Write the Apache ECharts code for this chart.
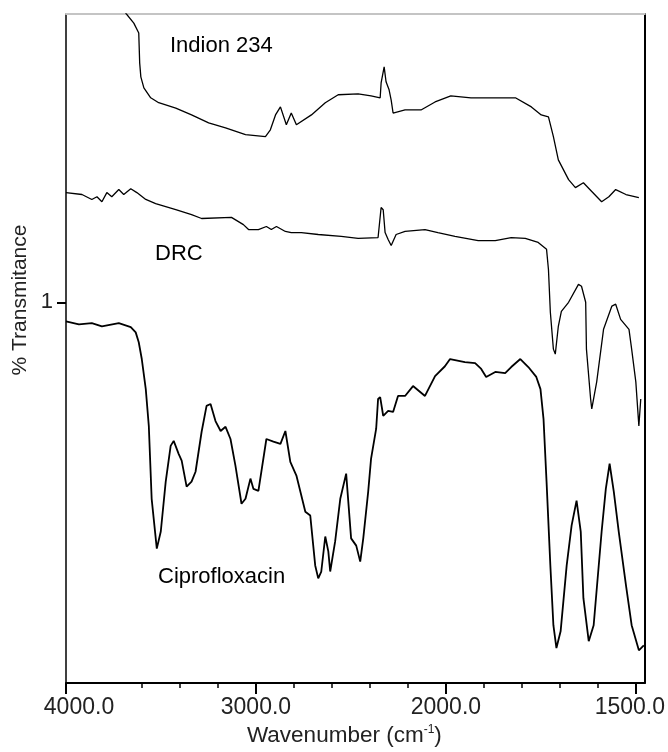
<!DOCTYPE html>
<html>
<head>
<meta charset="utf-8">
<title>FTIR spectra</title>
<script src="https://cdn.jsdelivr.net/npm/echarts@6/dist/echarts.min.js"></script>
<style>
  html, body { margin: 0; padding: 0; background: #fff; }
  #chart { width: 668px; height: 752px; }
</style>
</head>
<body>
<div id="chart"></div>
<script>
// spectra: wavenumber (cm-1) and relative transmittance (1 = axis mark)
var indionWn = [3701, 3685, 3643, 3617, 3612, 3606, 3590, 3554, 3512, 3422, 3339, 3249, 3160, 3055, 2950, 2924, 2897, 2871, 2840, 2814, 2787, 2708, 2635, 2567, 2462, 2394, 2346, 2341, 2325, 2315, 2299, 2288, 2278, 2215, 2131, 2057, 1987, 1934, 1817, 1775, 1749, 1730, 1717, 1704, 1677, 1659, 1638, 1616, 1590, 1571, 1553, 1526, 1492];
var indionT = [1.780, 1.759, 1.733, 1.707, 1.628, 1.592, 1.563, 1.537, 1.524, 1.510, 1.492, 1.471, 1.458, 1.440, 1.435, 1.453, 1.492, 1.513, 1.466, 1.497, 1.466, 1.492, 1.524, 1.545, 1.547, 1.542, 1.537, 1.576, 1.618, 1.579, 1.558, 1.531, 1.497, 1.505, 1.505, 1.526, 1.542, 1.537, 1.537, 1.513, 1.492, 1.487, 1.435, 1.374, 1.322, 1.301, 1.314, 1.291, 1.264, 1.277, 1.296, 1.283, 1.275];

var drcWn = [4000, 3916, 3864, 3837, 3811, 3785, 3759, 3722, 3696, 3659, 3627, 3580, 3528, 3422, 3339, 3286, 3129, 3066, 3039, 2987, 2945, 2919, 2892, 2845, 2814, 2761, 2672, 2551, 2462, 2357, 2341, 2330, 2320, 2304, 2288, 2262, 2215, 2110, 2042, 1976, 1915, 1870, 1828, 1791, 1757, 1735, 1730, 1725, 1717, 1712, 1704, 1696, 1677, 1651, 1643, 1632, 1630, 1619, 1616, 1603, 1585, 1563, 1553, 1540, 1518, 1511, 1500, 1492, 1487];
var drcT = [1.288, 1.283, 1.270, 1.277, 1.264, 1.288, 1.277, 1.296, 1.283, 1.298, 1.288, 1.270, 1.259, 1.243, 1.230, 1.220, 1.223, 1.204, 1.191, 1.191, 1.199, 1.191, 1.199, 1.186, 1.183, 1.183, 1.178, 1.173, 1.168, 1.170, 1.249, 1.243, 1.183, 1.165, 1.149, 1.178, 1.186, 1.191, 1.183, 1.173, 1.162, 1.162, 1.170, 1.168, 1.157, 1.139, 1.086, 0.974, 0.877, 0.864, 0.937, 0.976, 1.000, 1.047, 1.042, 1.000, 0.877, 0.746, 0.720, 0.791, 0.929, 0.990, 0.995, 0.955, 0.929, 0.877, 0.791, 0.675, 0.746];

var ciproWn = [4000, 3932, 3864, 3811, 3722, 3659, 3633, 3617, 3601, 3580, 3564, 3549, 3522, 3501, 3475, 3449, 3433, 3407, 3391, 3365, 3339, 3318, 3286, 3260, 3239, 3213, 3186, 3160, 3134, 3108, 3076, 3055, 3029, 3013, 2987, 2945, 2908, 2871, 2845, 2819, 2787, 2740, 2714, 2688, 2672, 2656, 2635, 2619, 2609, 2583, 2556, 2525, 2499, 2472, 2451, 2435, 2409, 2394, 2367, 2357, 2346, 2330, 2304, 2278, 2252, 2215, 2173, 2110, 2057, 2005, 1989, 1950, 1923, 1907, 1894, 1870, 1844, 1828, 1804, 1783, 1762, 1751, 1743, 1735, 1725, 1717, 1709, 1698, 1682, 1669, 1656, 1645, 1638, 1624, 1611, 1590, 1579, 1569, 1558, 1545, 1526, 1511, 1492, 1479];
var ciproT = [0.950, 0.942, 0.945, 0.937, 0.945, 0.935, 0.921, 0.895, 0.851, 0.772, 0.675, 0.484, 0.353, 0.398, 0.529, 0.623, 0.636, 0.602, 0.584, 0.516, 0.529, 0.555, 0.660, 0.728, 0.733, 0.688, 0.662, 0.673, 0.641, 0.571, 0.471, 0.484, 0.537, 0.510, 0.505, 0.641, 0.634, 0.628, 0.662, 0.581, 0.545, 0.450, 0.440, 0.309, 0.275, 0.293, 0.385, 0.346, 0.293, 0.372, 0.484, 0.550, 0.380, 0.361, 0.319, 0.380, 0.503, 0.589, 0.668, 0.746, 0.751, 0.702, 0.715, 0.712, 0.754, 0.754, 0.780, 0.754, 0.806, 0.832, 0.851, 0.843, 0.840, 0.825, 0.804, 0.817, 0.814, 0.830, 0.851, 0.830, 0.804, 0.772, 0.694, 0.529, 0.309, 0.152, 0.092, 0.136, 0.309, 0.414, 0.479, 0.398, 0.223, 0.110, 0.152, 0.398, 0.510, 0.576, 0.503, 0.398, 0.257, 0.152, 0.086, 0.099];

var majorTicks = [4000, 3000, 2000, 1500];
var minorTicks = [3600, 3400, 3200, 2800, 2600, 2400, 2200, 1900, 1800, 1700, 1600];
var yTicks = [1];

var FONT = '"Liberation Sans", Arial, sans-serif';

// IR axis: scale doubles below 2000 cm-1, so map wavenumber onto a linear position
function toU(w) { return w >= 2000 ? 4000 - w : 2000 + 2 * (2000 - w); }
function fromU(u) { return u <= 2000 ? 4000 - u : 2000 - (u - 2000) / 2; }
function pairs(wn, t) { return wn.map(function (w, i) { return [toU(w), t[i]]; }); }

var X_MAX = 3047;
var Y_MAX = 1.757;

var chart = echarts.init(document.getElementById('chart'), null, { renderer: 'canvas' });

function lineSeries(name, wn, t, width) {
  return {
    name: name,
    type: 'line',
    xAxisIndex: 0,
    yAxisIndex: 0,
    data: pairs(wn, t),
    showSymbol: false,
    smooth: false,
    lineStyle: { color: '#000', width: width },
    emphasis: { disabled: true }
  };
}

var option = {
  animation: false,
  backgroundColor: '#fff',
  grid: { left: 66, right: 22, top: 14, bottom: 67 },
  xAxis: [
    {
      type: 'value',
      position: 'bottom',
      min: 0,
      max: X_MAX,
      axisLine: { show: true, onZero: false, lineStyle: { color: '#000', width: 2 } },
      axisTick: { show: true, customValues: majorTicks.map(toU), length: 11, lineStyle: { color: '#000', width: 2 } },
      axisLabel: {
        customValues: majorTicks.map(toU),
        margin: 13,
        fontSize: 23,
        color: '#222',
        fontFamily: FONT,
        formatter: function (val) {
          var w = Math.round(fromU(val));
          var s = w.toFixed(1);
          if (w === 4000) return '{first|' + s + '}';
          if (w === 1500) return '{last|' + s + '}';
          return s;
        },
        rich: {
          first: { fontSize: 23, color: '#222', fontFamily: FONT, padding: [0, 0, 0, 26] },
          last: { fontSize: 23, color: '#222', fontFamily: FONT, padding: [0, 12, 0, 0] }
        }
      },
      splitLine: { show: false },
      name: '{n|Wavenumber (cm}{s|-1}{n|)}',
      nameLocation: 'middle',
      nameGap: 40,
      nameTextStyle: {
        padding: [0, 22, 0, 0],
        rich: {
          n: { fontSize: 22.5, color: '#222', fontFamily: FONT },
          s: { fontSize: 12, color: '#222', fontFamily: FONT, verticalAlign: 'top' }
        }
      }
    },
    {
      type: 'value',
      position: 'bottom',
      min: 0,
      max: X_MAX,
      axisLine: { show: false, onZero: false },
      axisTick: { show: true, customValues: minorTicks.map(toU), length: 5, lineStyle: { color: '#000', width: 1.5 } },
      axisLabel: { show: false },
      splitLine: { show: false }
    },
    {
      type: 'value',
      position: 'top',
      min: 0,
      max: X_MAX,
      axisLine: { show: true, onZero: false, lineStyle: { color: '#c4c4c4', width: 2 } },
      axisTick: { show: false },
      axisLabel: { show: false },
      splitLine: { show: false }
    }
  ],
  yAxis: [
    {
      type: 'value',
      position: 'left',
      min: 0,
      max: Y_MAX,
      axisLine: { show: true, onZero: false, lineStyle: { color: '#000', width: 1.5 } },
      axisTick: { show: true, customValues: yTicks, length: 9, lineStyle: { color: '#000', width: 2 } },
      axisLabel: { customValues: yTicks, margin: 13, fontSize: 22, color: '#222', fontFamily: FONT },
      splitLine: { show: false }
    },
    {
      type: 'value',
      position: 'right',
      min: 0,
      max: Y_MAX,
      axisLine: { show: true, onZero: false, lineStyle: { color: '#000', width: 2 } },
      axisTick: { show: false },
      axisLabel: { show: false },
      splitLine: { show: false }
    }
  ],
  graphic: [
    { type: 'text', left: 170, top: 35, style: { text: 'Indion 234', fontSize: 22, fill: '#000', fontFamily: FONT } },
    { type: 'text', left: 155, top: 243, style: { text: 'DRC', fontSize: 22, fill: '#000', fontFamily: FONT } },
    { type: 'text', left: 158, top: 566, style: { text: 'Ciprofloxacin', fontSize: 22, fill: '#000', fontFamily: FONT } },
    {
      type: 'text', x: 20, y: 300, rotation: Math.PI / 2,
      style: { text: '% Transmitance', fontSize: 21, fill: '#222', fontFamily: FONT, align: 'center', verticalAlign: 'middle' }
    }
  ],
  series: [
    lineSeries('Indion 234', indionWn, indionT, 1.3),
    lineSeries('DRC', drcWn, drcT, 1.3),
    lineSeries('Ciprofloxacin', ciproWn, ciproT, 1.8)
  ]
};

chart.setOption(option);
window.onresize = function () { chart.resize(); };
</script>
</body>
</html>
